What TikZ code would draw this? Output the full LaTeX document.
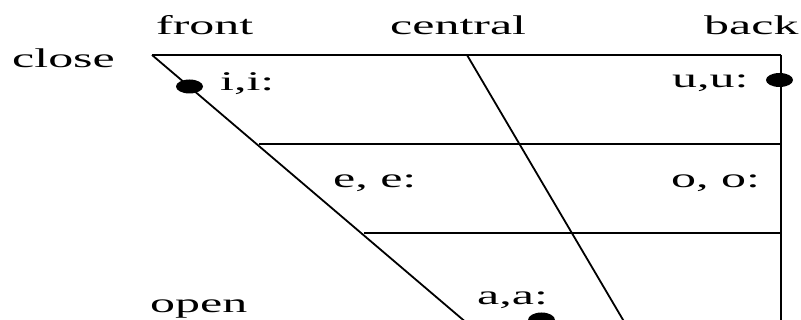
\documentclass[tikz,border=0pt]{standalone}
\usepackage{fontspec}
\setmainfont[FakeStretch=1.85]{Liberation Serif}
\begin{document}
\begin{tikzpicture}[x=1pt,y=-1pt,
  lbl/.style={anchor=base west,inner sep=0pt,font=\fontsize{27}{31}\selectfont},
  edge/.style={line width=1.8pt},
  dotmark/.style={fill=black,draw=none}]
\useasboundingbox (0,0) rectangle (801,320);
% frame corners of the vowel trapezium
\coordinate (tl) at (152,55);
\coordinate (tc) at (467,55);
\coordinate (tr) at (781,55);
\coordinate (br) at (781,330);
\coordinate (bl) at (475,330);
\coordinate (bc) at (629,330);
\coordinate (m1l) at (259,144);
\coordinate (m1r) at (781,144);
\coordinate (m2l) at (364,233);
\coordinate (m2r) at (781,233);
\draw[edge] (tl) -- (tr);
\draw[edge,line width=2.4pt] (tr) -- (br);
\draw[edge] (tl) -- (bl);
\draw[edge] (tc) -- (bc);
\draw[edge] (m1l) -- (m1r);
\draw[edge] (m2l) -- (m2r);
% vowel dots
\fill[dotmark] (189.5,86.5) ellipse [x radius=13.5, y radius=7];
\fill[dotmark] (779.5,80) ellipse [x radius=13.5, y radius=7];
\fill[dotmark] (541.5,320) ellipse [x radius=13.5, y radius=7.5];
% axis labels
\node[lbl] (front) at (156,35) {front};
\node[lbl] (central) at (390,35) {central};
\node[lbl] (back) at (704,35) {back};
\node[lbl] (close) at (12,68) {close};
\node[lbl] (open) at (150,313) {open};
% vowel labels
\node[lbl] (ii) at (220,91) {i,i:};
\node[lbl] (uu) at (672,88) {u,u:};
\node[lbl] (ee) at (333,188) {e, e:};
\node[lbl] (oo) at (671,188) {o, o:};
\node[lbl] (aa) at (477,305) {a,a:};
\end{tikzpicture}
\end{document}
